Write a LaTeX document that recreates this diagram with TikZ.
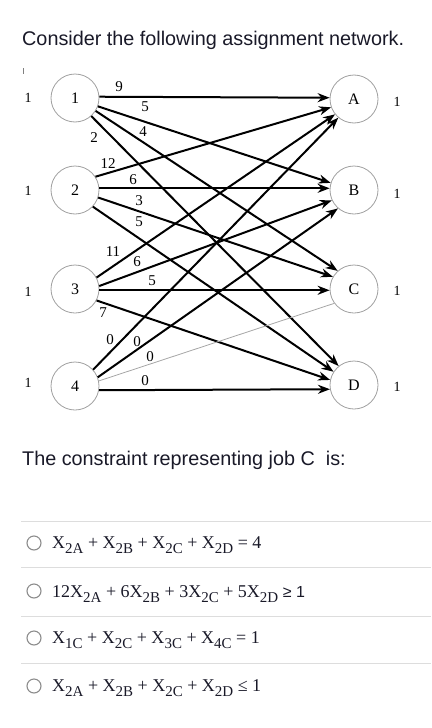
\documentclass[tikz,border=0pt]{standalone}
\usepackage{fontspec}
\setmainfont{Liberation Serif}
\newfontfamily\arialfont{Liberation Sans}
\usepackage{xcolor}
\usetikzlibrary{arrows.meta}

\definecolor{textcol}{RGB}{25,25,40}
\definecolor{rulecol}{RGB}{221,221,221}
\newcommand{\xs}[1]{\raisebox{-5pt}{\fontsize{15}{15}\selectfont #1}}

\begin{document}
\begin{tikzpicture}[x=1pt, y=-1pt, >={Stealth[length=12pt,width=9pt]},
  job/.style={circle, draw=gray!75, line width=0.8pt, minimum size=48pt, inner sep=0pt, font=\fontsize{16}{16}\selectfont},
  arc/.style={->, line width=2pt, black},
  wt/.style={inner sep=0pt, font=\fontsize{15}{15}\selectfont},
  supply/.style={inner sep=0pt, font=\fontsize{14}{14}\selectfont},
  prose/.style={anchor=base west, inner sep=0pt, text=textcol, font=\arialfont\fontsize{19.8}{24}\selectfont},
  choice/.style={anchor=base west, inner sep=0pt, text=textcol, font=\fontsize{18}{22}\selectfont},
  radio/.style={draw=gray!90, line width=1.1pt}]
\useasboundingbox (0,0) rectangle (431,728);

\node[prose] (title) at (22,45) {Consider the following assignment network.};
\draw[gray, line width=1pt] (23,68) -- (23,74);

% people and jobs
\node[job] (p1) at (75,98)  {1};
\node[job] (p2) at (75,190) {2};
\node[job] (p3) at (75,289) {3};
\node[job] (p4) at (75,386) {4};
\node[job] (jA) at (354,99)  {A};
\node[job] (jB) at (354,190) {B};
\node[job] (jC) at (354,289) {C};
\node[job] (jD) at (354,385) {D};

% supplies and demands
\node[supply] (s1) at (28,98)  {1};
\node[supply] (s2) at (28,191) {1};
\node[supply] (s3) at (28,292) {1};
\node[supply] (s4) at (28,383) {1};
\node[supply] (dA) at (397,102) {1};
\node[supply] (dB) at (397,194) {1};
\node[supply] (dC) at (397,291) {1};
\node[supply] (dD) at (397,387) {1};

% arcs
\draw[arc] (p1.3)   -- (jA.177);
\draw[arc] (p1.-20) -- (jB.163);
\draw[arc] (p1.-32) -- (jC.132);
\draw[arc] (p1.-48) -- (jD.129);
\draw[arc] (p2.33)  -- (jA.200);
\draw[arc] (p2.4)   -- (jB.176);
\draw[arc] (p2.-18) -- (jC.150);
\draw[arc] (p2.-43) -- (jD.147);
\draw[arc] (p3.28)  -- (jA.219);
\draw[arc] (p3.7)   -- (jB.205);
\draw[arc] (p3.-3)  -- (jC.183);
\draw[arc] (p3.-28) -- (jD.168);
\draw[arc] (p4.42)  -- (jA.230);
\draw[arc] (p4.21)  -- (jB.229);
\draw[gray!70, line width=0.8pt] (p4.12) -- (jC.216);
\draw[arc] (p4.-10) -- (jD.190);

% costs
\node[wt] (w1A) at (119,87)  {9};
\node[wt] (w1B) at (145,107) {5};
\node[wt] (w1C) at (143,132) {4};
\node[wt] (w1D) at (94,138)  {2};
\node[wt] (w2A) at (108,164) {12};
\node[wt] (w2B) at (133,180) {6};
\node[wt] (w2C) at (139,201) {3};
\node[wt] (w2D) at (139,222) {5};
\node[wt] (w3A) at (113,252) {11};
\node[wt] (w3B) at (137,262) {6};
\node[wt] (w3C) at (152,281) {5};
\node[wt] (w3D) at (103,313) {7};
\node[wt] (w4A) at (110,340) {0};
\node[wt] (w4B) at (137,342) {0};
\node[wt] (w4C) at (150,357) {0};
\node[wt] (w4D) at (145,381) {0};

% question
\node[prose] (question) at (22,465) {The constraint representing job C\ \ is:};

\draw[rulecol, line width=1pt] (21,521) -- (431,521);
\draw[rulecol, line width=1pt] (21,567) -- (431,567);
\draw[rulecol, line width=1pt] (21,616) -- (431,616);
\draw[rulecol, line width=1pt] (21,663) -- (431,663);

\draw[radio] (34,543) circle (7);
\draw[radio] (34,591) circle (7);
\draw[radio] (34,638) circle (7);
\draw[radio] (34,686) circle (7);

\node[choice] (optA) at (52,548) {X\xs{2A} + X\xs{2B} + X\xs{2C} + X\xs{2D} = 4};
\node[choice] (optB) at (52,597) {12X\xs{2A} + 6X\xs{2B} + 3X\xs{2C} + 5X\xs{2D} {\arialfont\fontsize{16}{16}\selectfont ≥ 1}};
\node[choice] (optC) at (52,643) {X\xs{1C} + X\xs{2C} + X\xs{3C} + X\xs{4C} = 1};
\node[choice] (optD) at (52,691) {X\xs{2A} + X\xs{2B} + X\xs{2C} + X\xs{2D} ≤ 1};
\end{tikzpicture}
\end{document}
